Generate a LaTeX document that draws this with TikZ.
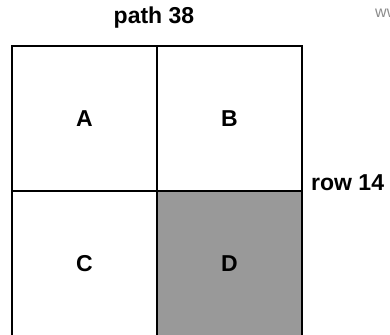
\documentclass[tikz,border=0pt]{standalone}
\usepackage{fontspec}
\setmainfont{Liberation Sans}
\begin{document}
\begin{tikzpicture}[x=1pt,y=-1pt,
  cell/.style={draw=black,line width=1.8pt,minimum width=145pt,minimum height=145pt,inner sep=0pt,
    font=\fontsize{23}{27}\selectfont\bfseries},
  lbl/.style={inner sep=0pt,font=\fontsize{23}{27}\selectfont\bfseries},
  wm/.style={inner sep=0pt,text=black!45,font=\fontsize{16}{19}\selectfont}]
\useasboundingbox (0,0) rectangle (390,334);
\clip (0,0) rectangle (390,334);
\fill[white] (0,0) rectangle (390,334);
\node[cell] (A) at (84.5,118.5) {A};
\node[cell] (B) at (229.5,118.5) {B};
\node[cell] (C) at (84.5,263.5) {C};
\node[cell,fill=black!40] (D) at (229.5,263.5) {D};
\node[lbl,anchor=base] (path) at (154,24) {path 38};
\node[lbl,anchor=base west] (row) at (311,190) {row 14};
\node[wm,anchor=base west] (ww) at (375,18) {ww};
\end{tikzpicture}
\end{document}
